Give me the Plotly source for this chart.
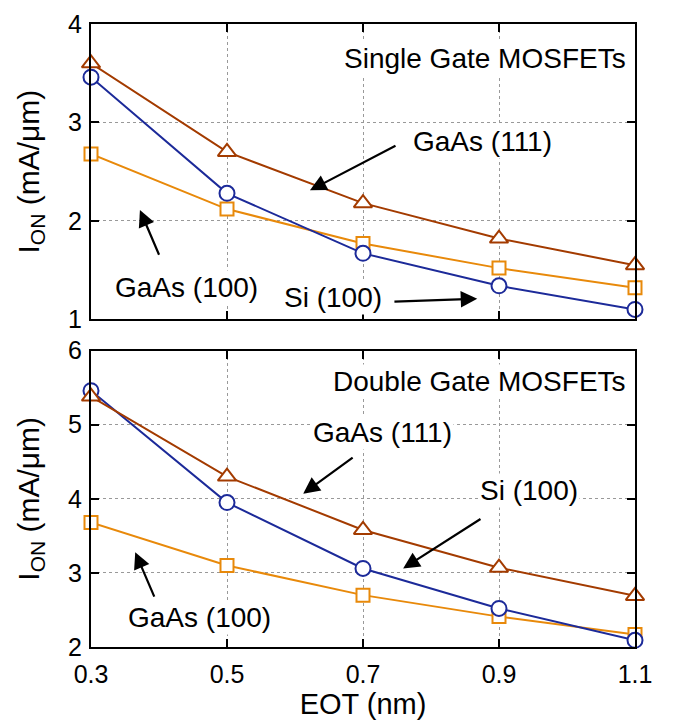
import plotly.graph_objects as go
from plotly.subplots import make_subplots

# EOT values (nm)
eot = [0.3, 0.5, 0.7, 0.9, 1.1]

# Single gate MOSFETs, I_ON (mA/um)
sg_gaas111 = [3.60, 2.70, 2.18, 1.82, 1.55]
sg_si100 = [3.46, 2.28, 1.67, 1.34, 1.10]
sg_gaas100 = [2.68, 2.12, 1.77, 1.52, 1.32]

# Double gate MOSFETs, I_ON (mA/um)
dg_gaas111 = [5.38, 4.30, 3.58, 3.07, 2.69]
dg_si100 = [5.46, 3.95, 3.06, 2.52, 2.09]
dg_gaas100 = [3.68, 3.10, 2.70, 2.41, 2.17]

x_ticks = [0.3, 0.5, 0.7, 0.9, 1.1]
x_tick_text = ["0.3", "0.5", "0.7", "0.9", "1.1"]
sg_y_ticks = [1, 2, 3, 4]
dg_y_ticks = [2, 3, 4, 5, 6]

BROWN = "#A33B00"
BLUE = "#1C2A99"
ORANGE = "#E8890A"
FONT = "Liberation Sans, Arial, Helvetica, sans-serif"

fig = make_subplots(rows=2, cols=1, vertical_spacing=0.05)

def add_series(row, y, color, symbol, size):
    fig.add_trace(
        go.Scatter(
            x=eot, y=y, mode="lines+markers",
            line=dict(color=color, width=2),
            marker=dict(symbol=symbol, size=size, color="white",
                        line=dict(color=color, width=2)),
            cliponaxis=False, showlegend=False,
        ),
        row=row, col=1,
    )

add_series(1, sg_gaas100, ORANGE, "square", 13)
add_series(1, sg_si100, BLUE, "circle", 15)
add_series(1, sg_gaas111, BROWN, "triangle-up", 16)
add_series(2, dg_gaas100, ORANGE, "square", 13)
add_series(2, dg_si100, BLUE, "circle", 15)
add_series(2, dg_gaas111, BROWN, "triangle-up", 16)

axis_common = dict(
    showline=True, linecolor="black", linewidth=2, mirror="ticks",
    ticks="inside", ticklen=8, tickwidth=1.5, tickcolor="black",
    showgrid=True, gridcolor="#999999", gridwidth=1, griddash="dot",
    zeroline=False,
    tickfont=dict(family=FONT, size=25, color="black"),
)

fig.update_xaxes(range=[0.3, 1.1], tickvals=x_ticks, ticktext=x_tick_text,
                 ticklabelstandoff=4, **axis_common)
fig.update_xaxes(showticklabels=False, row=1, col=1)
fig.update_xaxes(title=dict(text="EOT (nm)", font=dict(family=FONT, size=29, color="black"),
                            standoff=3), row=2, col=1)

ytitle = dict(text="I<sub>ON</sub> (mA/\u03bcm)", font=dict(family=FONT, size=30, color="black"),
              standoff=20)
fig.update_yaxes(range=[1, 4], tickvals=sg_y_ticks, title=ytitle, row=1, col=1,
                 ticklabelstandoff=2, **axis_common)
fig.update_yaxes(range=[2, 6], tickvals=dg_y_ticks, title=ytitle, row=2, col=1,
                 ticklabelstandoff=2, **axis_common)

fig.update_layout(
    width=678, height=726,
    margin=dict(l=91, r=43, t=10, b=79),
    plot_bgcolor="white", paper_bgcolor="white",
    font=dict(family=FONT, color="black"),
)
fig.update_layout(
    yaxis=dict(domain=[0.526, 1.0]),
    yaxis2=dict(domain=[0.0, 0.4757]),
)

annotations = []

def label(xref, yref, x, y, text):
    annotations.append(dict(
        xref=xref, yref=yref, x=x, y=y, text=text, showarrow=False,
        font=dict(family=FONT, size=28, color="black"),
        bgcolor="white", borderpad=1,
    ))

def arrow(xref, yref, x, y, ax, ay):
    annotations.append(dict(
        xref=xref, yref=yref, x=x, y=y, ax=ax, ay=ay,
        axref=xref, ayref=yref, text="", showarrow=True,
        arrowhead=2, arrowsize=1.5, arrowwidth=2.2, arrowcolor="black",
    ))

# Single gate panel
label("x", "y", 0.880, 3.65, "Single Gate MOSFETs")
label("x", "y", 0.876, 2.81, "GaAs (111)")
arrow("x", "y", 0.622, 2.31, 0.750, 2.77)
label("x", "y", 0.441, 1.32, "GaAs (100)")
arrow("x", "y", 0.372, 2.11, 0.401, 1.64)
label("x", "y", 0.656, 1.22, "Si (100)")
arrow("x", "y", 0.868, 1.21, 0.744, 1.18)

# Double gate panel
label("x2", "y2", 0.872, 5.59, "Double Gate MOSFETs")
label("x2", "y2", 0.729, 4.89, "GaAs (111)")
arrow("x2", "y2", 0.612, 4.07, 0.687, 4.57)
label("x2", "y2", 0.944, 4.11, "Si (100)")
arrow("x2", "y2", 0.759, 3.06, 0.875, 3.74)
label("x2", "y2", 0.460, 2.40, "GaAs (100)")
arrow("x2", "y2", 0.365, 3.28, 0.394, 2.66)

fig.update_layout(annotations=annotations)

fig.write_html("out.html")
